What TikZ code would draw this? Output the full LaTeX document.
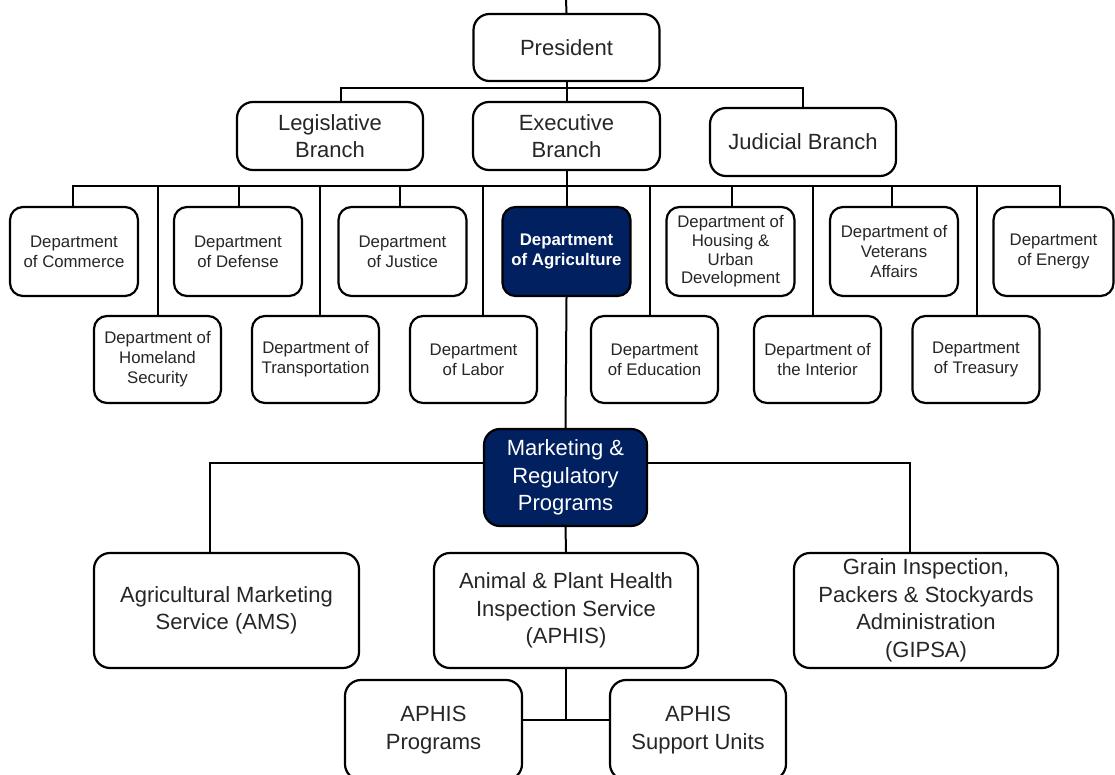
\documentclass[tikz,border=0pt]{standalone}
\usepackage{fontspec}
\setmainfont{Liberation Sans}
\usetikzlibrary{backgrounds}
\definecolor{navy}{HTML}{002060}
\definecolor{txt}{HTML}{262626}
\begin{document}
\begin{tikzpicture}[x=1pt,y=-1pt,
  base/.style={draw=black, line width=2.2pt, align=center, inner sep=0pt, text=txt, fill=white},
  big/.style={base, rounded corners=16pt, font=\fontsize{22}{27.5}\selectfont},
  dept/.style={base, rounded corners=13pt, font=\fontsize{16.8}{20}\selectfont},
  deptA/.style={dept, minimum width=128pt, minimum height=89pt},
  deptB/.style={dept, minimum width=127pt, minimum height=87pt},
  dark/.style={fill=navy, text=white},
  conn/.style={line width=2pt, draw=black}]
\useasboundingbox (0,0) rectangle (1115,775);
\clip (0,0) rectangle (1115,775);

% top levels
\node[big, minimum width=186pt, minimum height=67pt] (pres) at (566.5,47.5) {President};
\node[big, minimum width=186pt, minimum height=68pt] (leg) at (330,136) {Legislative\\Branch};
\node[big, minimum width=187pt, minimum height=68pt] (exec) at (566.5,136) {Executive\\Branch};
\node[big, minimum width=186pt, minimum height=68pt] (jud) at (803,142) {Judicial Branch};

% departments, upper row
\node[deptA] (com) at (74,251.5) {Department\\of Commerce};
\node[deptA] (def) at (238,251.5) {Department\\of Defense};
\node[deptA] (jus) at (402.5,251.5) {Department\\of Justice};
\node[deptA, dark, font=\fontsize{16.8}{20}\selectfont\bfseries] (agri) at (566.5,251.5) {Department\\of Agriculture};
\node[deptA, font=\fontsize{16.8}{18.7}\selectfont] (hou) at (730.5,251.5) {Department of\\Housing \&\\Urban\\Development};
\node[deptA] (vet) at (894,251.5) {Department of\\Veterans\\Affairs};
\node[deptA, minimum width=120pt] (ene) at (1053.5,251.5) {Department\\of Energy};

% departments, lower row
\node[deptB] (hom) at (157.5,359.5) {Department of\\Homeland\\Security};
\node[deptB] (tra) at (315.5,359.5) {Department of\\Transportation};
\node[deptB] (lab) at (473.5,359.5) {Department\\of Labor};
\node[deptB] (edu) at (654.5,359.5) {Department\\of Education};
\node[deptB] (int) at (817.5,359.5) {Department of\\the Interior};
\node[deptB] (tre) at (976,359.5) {Department\\of Treasury};

% lower part
\node[big, dark, minimum width=163pt, minimum height=97pt] (mrp) at (565.5,477.5) {Marketing \&\\Regulatory\\Programs};
\node[big, minimum width=265pt, minimum height=115pt] (ams) at (226.5,610.5) {Agricultural Marketing\\Service (AMS)};
\node[big, minimum width=264pt, minimum height=115pt] (aphis) at (566,610.5) {Animal \& Plant Health\\Inspection Service\\(APHIS)};
\node[big, minimum width=264pt, minimum height=115pt] (gipsa) at (926,610.5) {Grain Inspection,\\Packers \& Stockyards\\Administration\\(GIPSA)};
\node[big, minimum width=177pt, minimum height=100pt] (apr) at (433.5,730) {APHIS\\Programs};
\node[big, minimum width=176pt, minimum height=100pt] (asu) at (698,730) {APHIS\\Support Units};

% connectors
\begin{scope}[on background layer]
\begin{scope}[conn]
\coordinate (topend) at (566,0);
\draw[conn] (topend) -- (pres.north);
\draw[conn] (pres.south) -- (exec.north);
\coordinate (bus1) at (566,88);
\draw[conn] ([xshift=11pt]leg.north) |- (bus1) -| (jud.north);

\coordinate (bus2) at (566,186.5);
\draw[conn] (exec.south) -- (agri.north);
\draw[conn] ([xshift=-1pt]com.north) |- (bus2) -| ([xshift=6.5pt]ene.north);
\draw[conn] ([xshift=1pt]def.north) -- ([xshift=1pt]def.north |- bus2);
\draw[conn] ([xshift=-2.5pt]jus.north) -- ([xshift=-2.5pt]jus.north |- bus2);
\draw[conn] ([xshift=1.5pt]hou.north) -- ([xshift=1.5pt]hou.north |- bus2);
\draw[conn] ([xshift=-2pt]vet.north) -- ([xshift=-2pt]vet.north |- bus2);
\draw[conn] (hom.north) -- (hom.north |- bus2);
\draw[conn] ([xshift=4.5pt]tra.north) -- ([xshift=4.5pt]tra.north |- bus2);
\draw[conn] ([xshift=9.5pt]lab.north) -- ([xshift=9.5pt]lab.north |- bus2);
\draw[conn] ([xshift=-4.5pt]edu.north) -- ([xshift=-4.5pt]edu.north |- bus2);
\draw[conn] ([xshift=-4.5pt]int.north) -- ([xshift=-4.5pt]int.north |- bus2);
\draw[conn] ([xshift=1pt]tre.north) -- ([xshift=1pt]tre.north |- bus2);

\draw[conn] (agri.south) -- (mrp.north);
\coordinate (bus3) at (566,463);
\draw[conn] ([xshift=-16.5pt]ams.north) |- (bus3) -| ([xshift=-16pt]gipsa.north);
\draw[conn] (mrp.south) -- (aphis.north);
\coordinate (bus4) at (566,720);
\draw[conn] (aphis.south) -- (bus4);
\draw[conn] (apr.east |- bus4) -- (asu.west |- bus4);
\end{scope}
\end{scope}
\end{tikzpicture}
\end{document}
